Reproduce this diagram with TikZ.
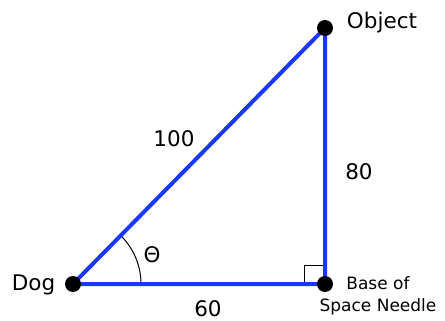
\documentclass[tikz,border=0pt]{standalone}
\usepackage{fontspec}
\setmainfont{DejaVu Sans}
\begin{document}
\begin{tikzpicture}[x=1pt,y=-1pt,
  side/.style={draw={rgb,255:red,25;green,55;blue,255},line width=4pt},
  dot/.style={circle,fill=black,inner sep=0pt,minimum size=16pt},
  lbl/.style={inner sep=0pt,font=\fontsize{21.5}{25}\selectfont},
  small/.style={inner sep=0pt,align=center,font=\fontsize{17}{22}\selectfont}]
\useasboundingbox (0,0) rectangle (445,321);
\coordinate (A) at (73,284);
\coordinate (B) at (325,284);
\coordinate (C) at (325,28);
% right angle mark
\draw[line width=1pt] (304,265) rectangle (B);
% angle arc
\draw[line width=1pt] (141,284) arc[start angle=0,end angle=-45.5,radius=68];
\draw[side] (A) -- (B) -- (C) -- cycle;
\node[dot] (dog) at (A) {};
\node[dot] (base) at (B) {};
\node[dot] (obj) at (C) {};
\node[lbl] (tdog) at (33.5,285) {Dog};
\node[lbl] (tobj) at (382,23) {Object};
\node[lbl] (t100) at (174,139) {100};
\node[lbl] (t80) at (359,172) {80};
\node[lbl] (t60) at (208,308.5) {60};
\node[lbl] (tth) at (152,255) {Θ};
\node[small] (tbase) at (378,296) {Base of\\Space Needle};
\end{tikzpicture}
\end{document}
